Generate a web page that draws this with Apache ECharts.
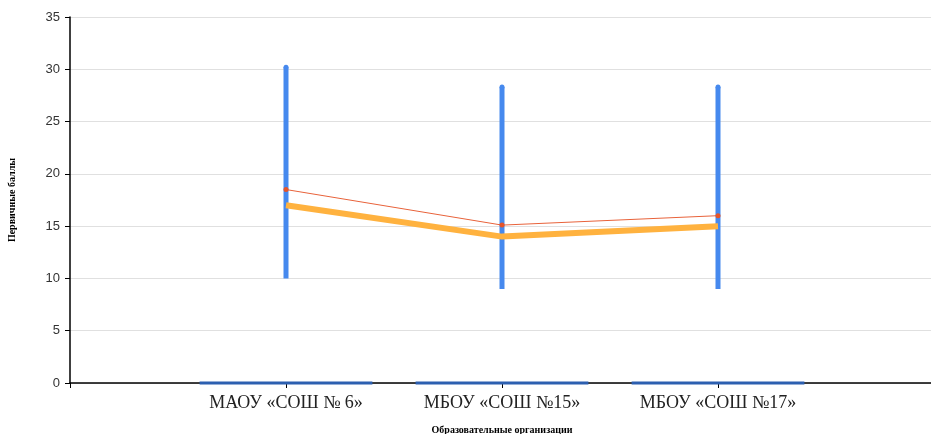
<!DOCTYPE html>
<html>
<head>
<meta charset="utf-8">
<script src="https://cdn.jsdelivr.net/npm/echarts@6/dist/echarts.min.js"></script>
<style>html,body{margin:0;padding:0;background:#fff}#c{width:931px;height:434px}</style>
</head>
<body>
<div id="c"></div>
<script>
var categories = ['', 'МАОУ «СОШ № 6»', 'МБОУ «СОШ №15»', 'МБОУ «СОШ №17»', ''];
var minValues = [null, 10, 9, 9, null];
var maxValues = [null, 30.2, 28.3, 28.3, null];
var orangeValues = ['-', 17, 14, 15, '-'];
var redValues = ['-', 18.5, 15.1, 16.0, '-'];
var baseValues = [null, 0, 0, 0, null];
var yTicks = {min: 0, max: 35, interval: 5};

var chart = echarts.init(document.getElementById('c'));
var rangeData = [];
var baseData = [];
for (var i = 0; i < categories.length; i++) {
  if (minValues[i] != null) rangeData.push([i, minValues[i], maxValues[i]]);
  if (baseValues[i] != null) baseData.push([i, baseValues[i]]);
}
chart.setOption({
  animation: false,
  grid: {left: 70, top: 17, width: 864, height: 366, outerBoundsMode: 'none', containLabel: false},
  xAxis: {
    type: 'category',
    data: categories,
    boundaryGap: false,
    name: 'Образовательные организации',
    nameLocation: 'middle',
    nameGap: 42,
    nameTextStyle: {fontFamily: 'Liberation Serif', fontWeight: 'bold', fontSize: 10, color: '#000'},
    axisLine: {lineStyle: {color: '#000', width: 1.5}},
    axisTick: {show: true, length: 5, lineStyle: {color: '#000'}},
    axisLabel: {fontFamily: 'Liberation Serif', fontSize: 18, color: '#222', margin: 11, interval: 0},
    splitLine: {show: false}
  },
  yAxis: {
    type: 'value',
    min: yTicks.min, max: yTicks.max, interval: yTicks.interval,
    name: 'Первичные баллы',
    nameLocation: 'middle',
    nameGap: 53,
    nameRotate: 90,
    nameTextStyle: {fontFamily: 'Liberation Serif', fontWeight: 'bold', fontSize: 10, color: '#000'},
    axisLine: {show: true, lineStyle: {color: '#000', width: 1.5}},
    axisTick: {show: true, length: 5, lineStyle: {color: '#000'}},
    axisLabel: {fontFamily: 'Liberation Sans', fontSize: 13, color: '#333', margin: 10},
    splitLine: {lineStyle: {color: '#e0e0e0'}}
  },
  series: [
    {
      type: 'custom',
      data: baseData,
      z: 5,
      renderItem: function (params, api) {
        var p = api.coord([api.value(0), api.value(1)]);
        var half = api.size([1, 0])[0] * 0.4;
        return {type: 'line', shape: {x1: p[0] - half, y1: p[1], x2: p[0] + half, y2: p[1]}, style: {stroke: '#2c5fb0', lineWidth: 3}};
      }
    },
    {
      type: 'custom',
      data: rangeData,
      z: 2,
      renderItem: function (params, api) {
        var p1 = api.coord([api.value(0), api.value(1)]);
        var p2 = api.coord([api.value(0), api.value(2)]);
        return {
          type: 'group',
          children: [
            {type: 'line', shape: {x1: p1[0], y1: p1[1], x2: p2[0], y2: p2[1]}, style: {stroke: '#4689ee', lineWidth: 5, lineCap: 'butt'}},
            {type: 'circle', shape: {cx: p2[0], cy: p2[1], r: 2.5}, style: {fill: '#4689ee'}}
          ]
        };
      }
    },
    {
      type: 'line',
      data: orangeValues,
      symbol: 'none',
      lineStyle: {color: '#ffb23f', width: 6},
      z: 3
    },
    {
      type: 'line',
      data: redValues,
      symbol: 'circle',
      symbolSize: 5,
      itemStyle: {color: '#e4542a'},
      lineStyle: {color: '#e8623a', width: 1},
      z: 4
    }
  ]
});
</script>
</body>
</html>
